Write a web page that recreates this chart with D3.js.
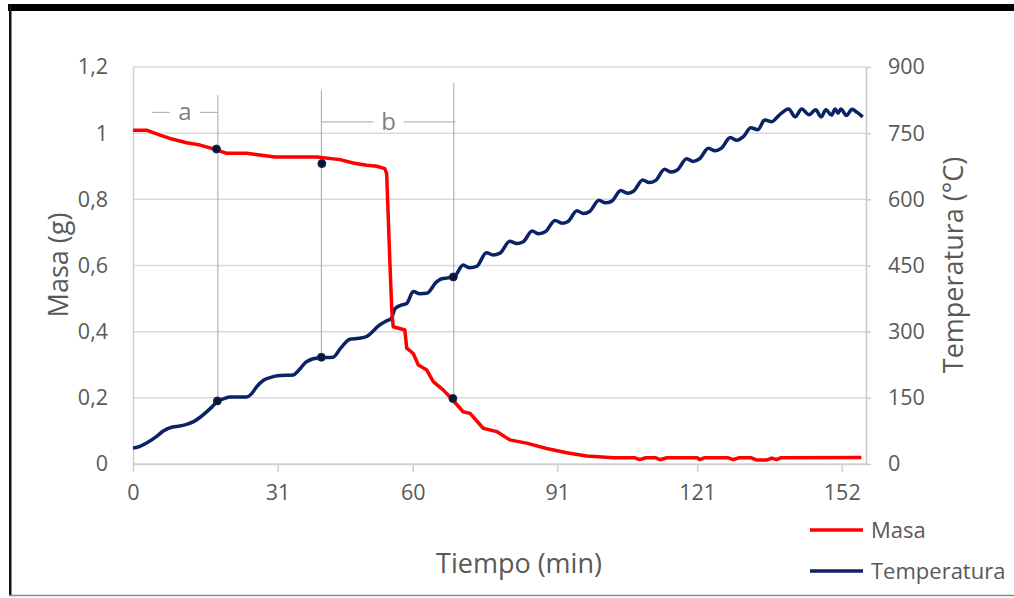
<!DOCTYPE html>
<html>
<head>
<meta charset="utf-8">
<script src="https://cdn.jsdelivr.net/npm/d3@7"></script>
<style>
  html, body { margin: 0; padding: 0; background: #fff; }
  svg { display: block; font-family: "Open Sans", sans-serif; }
</style>
</head>
<body>
<div id="chart"></div>
<script>
// tiempo (min) / masa (g)
const massTime = [0, 2.9, 5.8, 7.9, 11.5, 14.4, 17.6, 20.1, 24.4, 27.2, 30.4, 39.4, 44.4, 47.2, 50.1, 52.3, 54.0, 54.4,
  55.1, 55.5, 55.8, 58.3, 58.7, 60.1, 61.2, 63.0, 64.4, 66.5, 68.3, 70.8, 72.3, 75.1, 78.0, 80.8, 84.4, 88.7, 93.0,
  97.3, 103.0, 107.5, 108.7, 110.0, 112.0, 113.0, 114.5, 121.0, 121.6, 122.5, 127.5, 128.7, 130.0, 132.5, 133.8,
  135.9, 137.0, 138.0, 139.0, 156.2];
const massValue = [1.009, 1.009, 0.994, 0.984, 0.971, 0.964, 0.951, 0.939, 0.939, 0.934, 0.928, 0.928, 0.920, 0.910,
  0.903, 0.900, 0.893, 0.878, 0.607, 0.465, 0.415, 0.405, 0.350, 0.334, 0.299, 0.284, 0.249, 0.224, 0.198, 0.158,
  0.153, 0.108, 0.098, 0.073, 0.063, 0.047, 0.034, 0.024, 0.019, 0.019, 0.013, 0.019, 0.019, 0.013, 0.019, 0.019,
  0.013, 0.019, 0.019, 0.013, 0.019, 0.019, 0.012, 0.012, 0.018, 0.013, 0.019, 0.020];

// tiempo (min) / temperatura (°C)
const tempTime = [0, 1.5, 3, 5, 6.5, 8.5, 10, 11.5, 13, 14.4, 16.5, 18.3, 19.5, 20.8, 24.4, 25.5, 26.5, 28, 29.4, 31,
  34.4, 35.5, 37.2, 39.9, 42.9, 44.5, 46.5, 48.5, 50.1, 52.9, 54.5, 55.4, 56.2, 57.5, 58.7, 60.1, 61.5, 63.0, 65.1,
  66.2, 67.5, 69.0, 70.8, 72.2, 73.7, 75.8, 77.2, 78.7, 80.8, 82.3, 83.7, 85.6, 87.0, 88.5, 90.5, 92.0, 93.3, 95.2,
  96.6, 98.0, 99.9, 101.3, 102.7, 104.6, 106.0, 107.4, 109.3, 110.7, 112.1, 114.0, 115.4, 116.8, 118.7, 120.1, 121.5,
  123.4, 124.8, 126.2, 128.1, 129.5, 130.9, 132.5, 134.0, 135.5, 137.0, 138.5, 140.6, 142.0, 143.4, 145.0, 146.4,
  147.6, 148.6, 149.8, 150.6, 151.2, 151.8, 153.0, 154.2, 155.3, 156.5];
const tempValue = [36, 40, 48, 62, 75, 84, 86, 90, 96, 106, 125, 143, 148, 152, 152, 160, 175, 190, 196, 200,
  202, 212, 232, 241, 242, 262, 283, 285, 289, 315, 325, 330, 352, 360, 364, 391, 386, 387, 413,
  420, 422, 426, 451, 445, 448, 479, 474, 478, 505, 500, 504, 528, 522, 527, 552, 546, 550, 574,
  568, 573, 598, 592, 596, 620, 614, 619, 644, 638, 643, 668, 662, 667, 692, 686, 692,
  716, 710, 716, 740, 734, 742, 762, 758, 780, 776, 790, 805, 787, 805, 792, 803,
  787, 803, 791, 805, 795, 805, 790, 804, 797, 787];

const xTicks = [0, 31, 60, 91, 121, 152];
const massTicks = [0, 0.2, 0.4, 0.6, 0.8, 1, 1.2];
const tempTicks = [0, 150, 300, 450, 600, 750, 900];

// marcadores sobre las curvas
const massMarkers = [[17.9, 0.952], [40.5, 0.908], [68.6, 0.198]];
const tempMarkers = [[18.1, 143], [40.4, 242], [68.7, 424]];

// líneas guía verticales: tiempo, tope (masa), fin (serie, valor)
const guides = [
  { t: 18.2, top: 1.115, end: ['temp', 143] },
  { t: 40.4, top: 1.13, end: ['temp', 242] },
  { t: 68.8, top: 1.152, end: ['mass', 0.198] },
];
// tramos a y b: inicio, fin, altura (masa)
const spans = [
  { label: 'a', from: 4.1, to: 18.2, level: 1.063 },
  { label: 'b', from: 40.4, to: 69.2, level: 1.034 },
];

const seriesNames = ['Masa', 'Temperatura'];
const seriesColors = ['#ff0000', '#0b2265'];

const width = 1014,
      height = 598;
const mLeft = 133, mRight = 866, mTop = 67, mBottom = 464;

const svg = d3.select('#chart').append('svg').attr('width', width).attr('height', height);

// marco
svg.append('rect').attr('x', 8).attr('y', 4).attr('width', width - 8).attr('height', 7).attr('fill', '#000');
svg.append('rect').attr('x', 9).attr('y', 4).attr('width', 2.5).attr('height', 592).attr('fill', '#111');
svg.append('line').attr('x1', 9).attr('x2', width).attr('y1', 595.5).attr('y2', 595.5)
   .attr('stroke', '#8a8a8a').attr('stroke-width', 1.5);

const x = d3.scaleLinear().domain([0, 157.2]).range([mLeft, mRight]);
const yMass = d3.scaleLinear().domain([0, 1.2]).range([mBottom, mTop]);
const yTemp = d3.scaleLinear().domain([0, 900]).range([mBottom, mTop]);

const comma = d => d3.format('')(d).replace('.', ',');
const tickColor = '#595959';

// rejilla
svg.append('g').selectAll('line').data(massTicks).join('line')
   .attr('x1', mLeft).attr('x2', mRight)
   .attr('y1', d => yMass(d)).attr('y2', d => yMass(d))
   .attr('stroke', '#d9d9d9').attr('stroke-width', 1.5);

// eje izquierdo
const axL = svg.append('g').attr('transform', `translate(${mLeft},0)`)
   .call(d3.axisLeft(yMass).tickValues(massTicks).tickFormat(comma).tickSize(0).tickPadding(25));
axL.select('.domain').attr('stroke', '#d0d0d0').attr('stroke-width', 1.5);

// eje derecho
const axR = svg.append('g').attr('transform', `translate(${mRight},0)`)
   .call(d3.axisRight(yTemp).tickValues(tempTicks).tickSize(5).tickSizeOuter(0).tickPadding(17));
axR.select('.domain').attr('stroke', '#c8c8c8').attr('stroke-width', 1.5);
axR.selectAll('.tick line').attr('stroke', '#c8c8c8').attr('stroke-width', 1.5);

// eje inferior
const axB = svg.append('g').attr('transform', `translate(0,${mBottom})`)
   .call(d3.axisBottom(x).tickValues(xTicks).tickSize(8).tickSizeOuter(0).tickPadding(13));
axB.select('.domain').attr('stroke', '#d0d0d0').attr('stroke-width', 1.5);
axB.selectAll('.tick line').attr('stroke', '#d0d0d0').attr('stroke-width', 1.5);

svg.selectAll('.tick text').attr('fill', tickColor).style('font-size', '21.5px')
   .style('font-family', '"Open Sans", sans-serif');

// títulos de ejes
svg.append('text').attr('transform', 'translate(68,265) rotate(-90)').attr('text-anchor', 'middle')
   .attr('fill', tickColor).style('font-size', '27px').text('Masa (g)');
svg.append('text').attr('transform', 'translate(963,265) rotate(-90)').attr('text-anchor', 'middle')
   .attr('fill', tickColor).style('font-size', '27px').text('Temperatura (°C)');
svg.append('text').attr('x', 519).attr('y', 573).attr('text-anchor', 'middle')
   .attr('fill', tickColor).style('font-size', '27px').text('Tiempo (min)');

// guías verticales
const guideColor = '#a6a6a6';
svg.append('g').selectAll('line').data(guides).join('line')
   .attr('x1', d => x(d.t)).attr('x2', d => x(d.t))
   .attr('y1', d => yMass(d.top))
   .attr('y2', d => d.end[0] === 'temp' ? yTemp(d.end[1]) : yMass(d.end[1]))
   .attr('stroke', guideColor).attr('stroke-width', 1);

// tramos a y b
const spanG = svg.append('g').selectAll('g').data(spans).join('g');
spanG.append('line')
   .attr('x1', d => x(d.from)).attr('x2', d => (x(d.from) + x(d.to)) / 2 - 15)
   .attr('y1', d => yMass(d.level)).attr('y2', d => yMass(d.level))
   .attr('stroke', guideColor).attr('stroke-width', 1);
spanG.append('line')
   .attr('x1', d => (x(d.from) + x(d.to)) / 2 + 15).attr('x2', d => x(d.to))
   .attr('y1', d => yMass(d.level)).attr('y2', d => yMass(d.level))
   .attr('stroke', guideColor).attr('stroke-width', 1);
spanG.append('text')
   .attr('x', d => (x(d.from) + x(d.to)) / 2).attr('y', d => yMass(d.level) + 8)
   .attr('text-anchor', 'middle').attr('fill', '#7f7f7f').style('font-size', '24px')
   .text(d => d.label);

// curvas
const massData = massTime.map((t, i) => [t, massValue[i]]);
const tempData = tempTime.map((t, i) => [t, tempValue[i]]);

svg.append('path').datum(tempData)
   .attr('d', d3.line().x(d => x(d[0])).y(d => yTemp(d[1])).curve(d3.curveMonotoneX))
   .attr('fill', 'none').attr('stroke', seriesColors[1]).attr('stroke-width', 3.5)
   .attr('stroke-linejoin', 'round');
svg.append('path').datum(massData)
   .attr('d', d3.line().x(d => x(d[0])).y(d => yMass(d[1])))
   .attr('fill', 'none').attr('stroke', seriesColors[0]).attr('stroke-width', 3.5)
   .attr('stroke-linejoin', 'round');

// marcadores
svg.append('g').selectAll('circle').data(massMarkers).join('circle')
   .attr('cx', d => x(d[0])).attr('cy', d => yMass(d[1])).attr('r', 4)
   .attr('fill', '#0d1730').attr('stroke', '#1b2a55').attr('stroke-width', 1);
svg.append('g').selectAll('circle').data(tempMarkers).join('circle')
   .attr('cx', d => x(d[0])).attr('cy', d => yTemp(d[1])).attr('r', 4)
   .attr('fill', '#0d1730').attr('stroke', '#1b2a55').attr('stroke-width', 1);

// leyenda
const leg = svg.append('g').selectAll('g').data(seriesNames).join('g')
   .attr('transform', (d, i) => `translate(810,${530 + i * 41})`);
leg.append('line').attr('x1', 0).attr('x2', 53).attr('y1', 0).attr('y2', 0)
   .attr('stroke', (d, i) => seriesColors[i]).attr('stroke-width', 3.5);
leg.append('text').attr('x', 61).attr('y', 8).attr('fill', tickColor).style('font-size', '22px').text(d => d);
</script>
</body>
</html>
